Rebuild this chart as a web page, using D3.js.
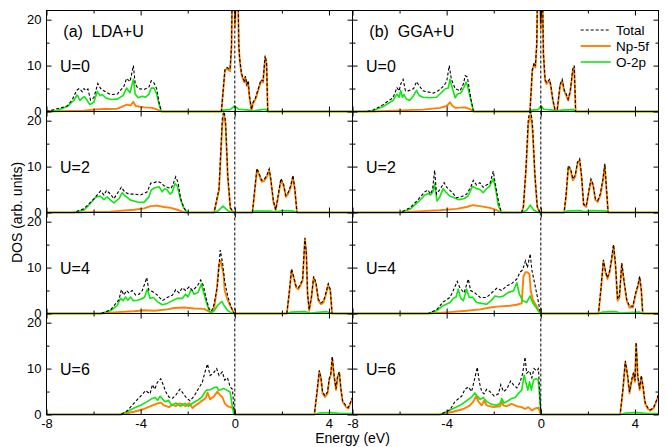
<!DOCTYPE html>
<html><head><meta charset="utf-8">
<script src="https://cdn.jsdelivr.net/npm/d3@7"></script>
<style>
body{margin:0;background:#fff;}
svg{display:block;font-family:"Liberation Sans",Arial,sans-serif;}
</style></head><body>
<svg id="chart" width="667" height="447"></svg>
<script>
// ---------- categories / labels ----------
const methods = ["LDA+U", "GGA+U"];
const panelLetters = ["(a)", "(b)"];
const uLabels = ["U=0", "U=2", "U=4", "U=6"];
const seriesNames = ["Total", "Np-5f", "O-2p"];
const xTickValues = [-8, -4, 0, 4];
const xMinorTicks = [-6, -2, 2];
const yTickValues = [0, 10, 20];
const yMinorTicks = [5, 15];
const xLabel = "Energy (eV)";
const yLabel = "DOS (arb. units)";

// ---------- data: [energy (eV), DOS] ----------
const lda0Total = [[-8,0],[-7.97,0],[-7.12,1.2],[-6.91,2.5],[-6.72,4.6],[-6.61,5.0],[-6.48,4.3],[-6.41,5.0],[-6.33,4.6],[-6.24,4.9],[-6.13,2.5],[-5.99,3.0],[-5.82,6.1],[-5.70,5.0],[-5.56,4.5],[-5.28,3.7],[-4.99,3.8],[-4.71,5.5],[-4.60,7.2],[-4.45,6.5],[-4.31,10.0],[-4.23,6.0],[-4.11,5.0],[-3.86,4.8],[-3.65,5.3],[-3.55,6.7],[-3.43,6.2],[-3.32,5.0],[-3.22,2.0],[-3.12,0],[-0.57,0],[-0.42,9.1],[-0.34,9.6],[-0.2,9.2],[-0.14,14.5],[-0.1,30],[-0.05,32],[0.01,19.5],[0.08,30],[0.13,28],[0.17,14.5],[0.21,11.4],[0.28,8.5],[0.34,7.4],[0.40,6.7],[0.45,7.7],[0.51,5.9],[0.57,6.7],[0.62,3.5],[0.71,0.4],[0.77,1.9],[0.88,3.0],[1.03,5.5],[1.11,6.9],[1.2,6.7],[1.29,12.2],[1.35,10.6],[1.40,0],[5,0]];
const lda0Np5f = [[-8,0],[-7.97,0],[-6.41,0.2],[-5.84,0.5],[-4.99,0.6],[-4.71,1.2],[-4.60,1.5],[-4.43,1.3],[-4.31,2.1],[-4.21,1.2],[-3.86,0.9],[-3.51,0.8],[-3.29,0.4],[-3.12,0],[-0.57,0],[-0.42,8.9],[-0.34,9.3],[-0.2,8.8],[-0.14,14],[-0.1,30],[-0.05,32],[0.01,18.3],[0.08,30],[0.13,28],[0.17,14.0],[0.21,11.1],[0.28,8.2],[0.34,7.1],[0.40,6.4],[0.45,7.4],[0.51,5.6],[0.57,6.4],[0.62,3.2],[0.71,0.3],[0.77,1.7],[0.88,2.7],[1.03,5.2],[1.11,6.6],[1.2,6.3],[1.29,11.8],[1.35,10.3],[1.40,0],[5,0]];
const lda0O2p = [[-8,0],[-7.97,0],[-7.55,0.2],[-7.12,1.1],[-6.84,2.4],[-6.70,3.6],[-6.58,2.4],[-6.47,3.0],[-6.38,3.2],[-6.30,2.6],[-6.16,1.5],[-5.99,2.0],[-5.84,4.4],[-5.73,3.5],[-5.63,3.7],[-5.49,3.0],[-5.28,2.6],[-4.99,2.7],[-4.74,3.5],[-4.60,5.1],[-4.45,4.1],[-4.31,7.0],[-4.23,3.8],[-4.11,3.0],[-3.93,3.3],[-3.79,3.1],[-3.65,3.8],[-3.55,5.1],[-3.43,5.1],[-3.32,3.8],[-3.22,1.6],[-3.12,0],[-0.6,0],[-0.5,0.3],[-0.2,0.4],[0,1.2],[0.15,0.5],[0.6,0.3],[0.75,0.1],[1.0,0.3],[1.3,0.5],[1.42,0],[5,0]];

const gga0Total = [[-8,0],[-7.4,0],[-7.12,0.3],[-6.70,1.5],[-6.28,3.0],[-6.11,5.2],[-6.02,4.5],[-5.95,6.0],[-5.85,7.0],[-5.75,4.5],[-5.63,4.5],[-5.40,5.0],[-5.28,6.5],[-5.17,5.6],[-5.0,4.5],[-4.57,4.0],[-4.36,4.5],[-4.14,5.5],[-4.0,6.5],[-3.89,10.0],[-3.80,7.0],[-3.64,5.0],[-3.43,4.5],[-3.29,6.0],[-3.21,7.8],[-3.12,7.5],[-2.98,3.0],[-2.86,0],[-0.46,0],[-0.36,9.2],[-0.28,10.6],[-0.23,9.9],[-0.17,15],[-0.13,30],[-0.07,30],[0.0,19.3],[0.06,30],[0.11,13],[0.18,7.0],[0.25,6.3],[0.37,7.0],[0.42,5.9],[0.51,2.7],[0.6,0.5],[0.7,0.5],[0.82,5.9],[0.91,7.0],[0.99,4.8],[1.08,3.8],[1.16,2.7],[1.25,4.5],[1.36,9.3],[1.42,10.0],[1.48,0],[5,0]];
const gga0Np5f = [[-8,0],[-7.1,0],[-6.28,0.2],[-5.0,0.4],[-4.29,0.8],[-4.0,1.2],[-3.86,2.0],[-3.77,1.3],[-3.64,0.8],[-3.21,0.9],[-3.0,0.5],[-2.86,0],[-0.46,0],[-0.36,8.9],[-0.28,10.3],[-0.23,9.6],[-0.17,14.7],[-0.13,30],[-0.07,30],[0.0,18],[0.06,30],[0.11,12.5],[0.18,6.7],[0.25,6.0],[0.37,6.7],[0.42,5.6],[0.51,2.4],[0.6,0.3],[0.7,0.3],[0.82,5.6],[0.91,6.7],[0.99,4.5],[1.08,3.5],[1.16,2.4],[1.25,4.2],[1.36,8.9],[1.42,9.6],[1.48,0],[5,0]];
const gga0O2p = [[-8,0],[-7.4,0],[-7.12,0.2],[-6.70,1.1],[-6.28,2.4],[-6.11,3.8],[-6.02,3.1],[-5.95,4.6],[-5.88,3.1],[-5.81,3.7],[-5.71,2.7],[-5.57,2.4],[-5.40,3.5],[-5.28,4.6],[-5.17,3.5],[-5.0,3.1],[-4.71,3.0],[-4.43,3.1],[-4.21,4.2],[-4.07,4.9],[-3.93,5.1],[-3.86,7.0],[-3.77,5.3],[-3.64,3.0],[-3.54,3.8],[-3.40,4.0],[-3.26,5.3],[-3.17,6.4],[-3.09,5.1],[-2.97,2.4],[-2.86,0],[-0.5,0],[-0.4,0.3],[-0.1,0.4],[0,1.3],[0.12,0.5],[0.5,0.3],[0.65,0.1],[0.9,0.3],[1.4,0.4],[1.48,0],[5,0]];

const lda2Total = [[-8,0],[-6.84,0],[-6.41,0.8],[-5.98,3.0],[-5.70,4.7],[-5.56,3.8],[-5.45,4.8],[-5.28,4.0],[-5.14,3.0],[-4.97,4.3],[-4.82,5.5],[-4.68,4.5],[-4.50,4.0],[-4.28,4.0],[-4.0,3.8],[-3.72,4.5],[-3.57,6.4],[-3.43,6.5],[-3.29,6.8],[-3.15,6.5],[-3.01,5.8],[-2.87,5.5],[-2.72,5.2],[-2.65,5.8],[-2.51,7.8],[-2.41,6.5],[-2.30,3.0],[-2.16,1.0],[-2.02,0],[-0.88,0],[-0.67,5.2],[-0.53,20.5],[-0.46,22.5],[-0.39,19.5],[-0.30,8.2],[-0.19,1.0],[-0.05,0],[0.75,0],[0.85,5.2],[0.94,9.6],[1.04,8.4],[1.14,7.0],[1.25,7.2],[1.36,8.1],[1.46,9.5],[1.53,7.3],[1.64,2.5],[1.74,0.6],[1.84,3.7],[1.96,7.4],[2.07,6.2],[2.17,3.7],[2.27,4.4],[2.38,5.9],[2.47,8.1],[2.55,5.2],[2.64,0],[5,0]];
const lda2Np5f = [[-8,0],[-6.84,0],[-5.28,0.2],[-4.28,0.6],[-3.86,0.9],[-3.57,1.4],[-3.29,1.5],[-3.01,1.2],[-2.72,1.0],[-2.44,0.6],[-2.23,0.2],[-2.09,0],[-0.88,0],[-0.67,4.9],[-0.53,19.3],[-0.46,21.5],[-0.39,19],[-0.30,7.8],[-0.19,0.9],[-0.05,0],[0.75,0],[0.85,4.9],[0.94,9.3],[1.04,8.1],[1.14,6.7],[1.25,6.9],[1.36,7.8],[1.46,9.2],[1.53,7.0],[1.64,2.3],[1.74,0.5],[1.84,3.4],[1.96,7.0],[2.07,5.9],[2.17,3.4],[2.27,4.1],[2.38,5.6],[2.47,7.8],[2.55,4.9],[2.64,0],[5,0]];
const lda2O2p = [[-8,0],[-6.84,0],[-6.41,0.5],[-6.13,2.0],[-5.91,3.3],[-5.72,3.6],[-5.56,2.8],[-5.42,3.4],[-5.28,2.7],[-5.14,2.1],[-4.92,3.0],[-4.78,4.3],[-4.68,3.7],[-4.57,3.3],[-4.43,2.7],[-4.14,2.3],[-3.86,2.2],[-3.65,3.4],[-3.55,4.9],[-3.40,5.4],[-3.22,5.6],[-3.08,4.5],[-2.98,5.2],[-2.87,4.9],[-2.75,4.0],[-2.65,4.5],[-2.54,6.3],[-2.44,5.7],[-2.30,2.7],[-2.16,0.9],[-2.02,0],[-0.9,0],[-0.7,0.4],[-0.5,1.4],[-0.3,0.4],[-0.1,0],[0.75,0],[0.85,0.3],[1.5,0.3],[1.7,0.1],[2.0,0.4],[2.5,0.3],[2.64,0],[5,0]];

const gga2Total = [[-8,0],[-5.99,0],[-5.56,1.0],[-5.21,2.8],[-4.93,4.5],[-4.79,4.9],[-4.69,4.0],[-4.60,5.0],[-4.51,9.2],[-4.43,4.0],[-4.29,5.0],[-4.11,6.5],[-4.0,5.5],[-3.79,4.5],[-3.58,3.2],[-3.36,3.5],[-3.15,4.0],[-2.98,5.5],[-2.87,7.0],[-2.73,6.0],[-2.59,6.5],[-2.45,5.5],[-2.31,6.0],[-2.16,6.3],[-2.02,9.0],[-1.91,5.5],[-1.76,1.5],[-1.67,0],[-0.81,0],[-0.74,1.3],[-0.63,9.7],[-0.53,20.5],[-0.43,22.5],[-0.35,19],[-0.25,8.2],[-0.15,1.3],[-0.04,0],[0.99,0],[1.07,3.7],[1.17,10.2],[1.27,9.5],[1.36,7.3],[1.46,8.1],[1.56,11.0],[1.65,11.7],[1.73,8.1],[1.82,1.8],[1.93,1.4],[2.03,4.4],[2.13,7.3],[2.22,6.2],[2.32,3.0],[2.42,2.6],[2.53,4.1],[2.64,7.3],[2.72,10.6],[2.79,5.2],[2.86,0],[5,0]];
const gga2Np5f = [[-8,0],[-5.99,0],[-5.0,0.3],[-4.29,0.5],[-3.58,0.8],[-3.15,1.2],[-2.90,1.6],[-2.59,1.4],[-2.16,1.0],[-1.87,0.5],[-1.70,0],[-0.81,0],[-0.74,1.2],[-0.63,9.2],[-0.53,19.3],[-0.43,21.5],[-0.35,17.9],[-0.25,7.8],[-0.15,1.2],[-0.04,0],[0.99,0],[1.07,3.4],[1.17,9.9],[1.27,9.2],[1.36,7.0],[1.46,7.8],[1.56,10.7],[1.65,11.4],[1.73,7.8],[1.82,1.6],[1.93,1.2],[2.03,4.1],[2.13,7.0],[2.22,5.9],[2.32,2.7],[2.42,2.3],[2.53,3.8],[2.64,7.0],[2.72,10.3],[2.79,4.9],[2.86,0],[5,0]];
const gga2O2p = [[-8,0],[-5.99,0],[-5.56,0.7],[-5.28,2.0],[-5.07,3.0],[-4.93,3.8],[-4.79,4.1],[-4.69,3.8],[-4.58,4.5],[-4.51,6.3],[-4.41,2.5],[-4.29,3.4],[-4.15,5.2],[-4.04,4.5],[-3.87,3.6],[-3.72,3.3],[-3.51,2.8],[-3.27,3.0],[-3.09,3.6],[-2.90,5.7],[-2.73,5.2],[-2.59,5.0],[-2.45,4.3],[-2.31,5.2],[-2.19,5.6],[-2.02,7.4],[-1.91,4.9],[-1.81,1.6],[-1.67,0],[-0.81,0],[-0.6,0.5],[-0.45,1.6],[-0.3,0.5],[-0.1,0],[0.99,0],[1.1,0.3],[1.7,0.4],[1.85,0.1],[2.1,0.4],[2.8,0.3],[2.86,0],[5,0]];

const lda4Total = [[-8,0],[-5.70,0],[-5.28,0.8],[-4.92,3.0],[-4.82,5.2],[-4.71,4.0],[-4.60,5.0],[-4.50,4.5],[-4.36,5.0],[-4.21,4.0],[-4.07,4.2],[-3.93,5.0],[-3.74,7.8],[-3.65,5.0],[-3.50,4.8],[-3.29,4.0],[-3.08,2.8],[-2.87,3.5],[-2.65,4.0],[-2.51,5.2],[-2.37,4.5],[-2.23,5.6],[-2.09,5.0],[-1.94,5.8],[-1.80,5.0],[-1.59,6.0],[-1.45,7.3],[-1.33,6.0],[-1.23,3.5],[-1.09,1.0],[-0.99,0.5],[-0.88,2.0],[-0.74,6.0],[-0.62,13.8],[-0.52,11.0],[-0.43,7.0],[-0.31,4.0],[-0.17,1.5],[-0.03,0],[2.21,0],[2.31,4.5],[2.41,9.7],[2.50,8.1],[2.60,6.0],[2.70,5.6],[2.78,6.3],[2.88,7.4],[2.98,16.5],[3.04,13.2],[3.09,4.5],[3.16,0.8],[3.26,3.8],[3.35,8.1],[3.45,6.7],[3.55,3.1],[3.66,2.3],[3.77,2.7],[3.87,4.5],[3.97,6.5],[4.06,5.2],[4.13,0],[5,0]];
const lda4Np5f = [[-8,0],[-5.70,0],[-5.0,0.3],[-4.28,0.5],[-3.86,0.7],[-3.43,0.6],[-2.87,0.9],[-2.58,1.2],[-2.16,1.3],[-1.73,1.1],[-1.30,1.0],[-1.09,0.4],[-0.99,0.1],[-0.88,1.2],[-0.77,5.0],[-0.67,10.8],[-0.60,11.5],[-0.48,8.5],[-0.43,5.0],[-0.31,3.0],[-0.17,1.5],[-0.03,0],[2.21,0],[2.31,4.2],[2.41,9.4],[2.50,7.8],[2.60,5.7],[2.70,5.3],[2.78,6.0],[2.88,7.1],[2.98,16.2],[3.04,12.9],[3.09,4.2],[3.16,0.6],[3.26,3.5],[3.35,7.8],[3.45,6.4],[3.55,2.8],[3.66,2.0],[3.77,2.4],[3.87,4.2],[3.97,6.2],[4.06,4.9],[4.13,0],[5,0]];
const lda4O2p = [[-8,0],[-5.70,0],[-5.28,0.6],[-5.0,1.7],[-4.85,3.3],[-4.74,2.8],[-4.64,3.6],[-4.54,2.9],[-4.43,3.6],[-4.31,2.8],[-4.14,2.9],[-4.0,3.1],[-3.83,3.6],[-3.72,5.3],[-3.60,3.3],[-3.46,3.5],[-3.29,2.6],[-3.08,1.9],[-2.87,2.2],[-2.65,2.8],[-2.44,3.3],[-2.23,3.3],[-2.09,4.2],[-1.99,3.6],[-1.85,5.3],[-1.73,4.2],[-1.56,4.6],[-1.42,6.4],[-1.34,4.9],[-1.23,2.8],[-1.09,0.6],[-1.0,0.2],[-0.88,0.6],[-0.74,1.7],[-0.6,2.4],[-0.55,2.6],[-0.45,1.7],[-0.31,0.7],[-0.17,0.2],[-0.03,0],[2.2,0],[2.4,0.3],[3.0,0.4],[3.2,0.1],[3.9,0.4],[4.13,0],[5,0]];

const gga4Total = [[-8,0],[-4.78,0],[-4.43,0.8],[-4.15,2.5],[-3.86,3.5],[-3.72,5.0],[-3.55,7.0],[-3.43,5.5],[-3.26,4.5],[-3.08,7.5],[-2.98,5.0],[-2.80,4.5],[-2.58,3.5],[-2.30,3.5],[-2.09,4.5],[-1.87,5.5],[-1.66,5.0],[-1.45,6.0],[-1.24,6.5],[-1.02,7.5],[-0.88,9.0],[-0.77,9.5],[-0.65,11.5],[-0.57,10.0],[-0.45,13.0],[-0.38,9.5],[-0.24,6.0],[-0.14,3.5],[-0.03,0.5],[0,0],[2.45,0],[2.55,5.2],[2.66,11.7],[2.75,9.2],[2.83,7.8],[2.92,9.2],[3.0,11.7],[3.09,15.0],[3.17,11.0],[3.26,3.1],[3.34,3.8],[3.44,11.0],[3.54,7.0],[3.65,3.1],[3.77,1.6],[3.91,1.6],[4.03,4.5],[4.13,6.3],[4.20,8.1],[4.27,5.2],[4.33,0],[5,0]];
const gga4Np5f = [[-8,0],[-4.78,0],[-3.86,0.3],[-3.15,0.6],[-2.58,0.9],[-2.16,1.3],[-1.87,1.5],[-1.59,1.6],[-1.31,1.7],[-1.03,1.9],[-0.81,2.2],[-0.74,8.0],[-0.65,9.0],[-0.57,9.0],[-0.48,8.5],[-0.43,5.0],[-0.34,3.0],[-0.17,1.5],[-0.03,0.2],[0,0],[2.45,0],[2.55,4.9],[2.66,11.4],[2.75,8.9],[2.83,7.5],[2.92,8.9],[3.0,11.4],[3.09,14.7],[3.17,10.7],[3.26,2.8],[3.34,3.5],[3.44,10.7],[3.54,6.7],[3.65,2.8],[3.77,1.3],[3.91,1.3],[4.03,4.2],[4.13,6.0],[4.20,7.8],[4.27,4.9],[4.33,0],[5,0]];
const gga4O2p = [[-8,0],[-4.78,0],[-4.43,0.6],[-4.15,1.7],[-3.86,2.4],[-3.72,3.3],[-3.60,3.6],[-3.51,5.3],[-3.40,3.3],[-3.29,2.8],[-3.15,5.3],[-3.04,3.5],[-2.90,3.6],[-2.73,2.4],[-2.52,2.2],[-2.31,2.0],[-2.09,2.9],[-1.95,3.8],[-1.76,3.6],[-1.59,3.8],[-1.38,4.6],[-1.16,4.9],[-1.02,6.7],[-0.91,4.2],[-0.77,2.8],[-0.60,2.4],[-0.46,3.8],[-0.35,2.4],[-0.20,1.3],[-0.06,0.2],[0,0],[2.45,0],[2.6,0.3],[3.2,0.4],[3.35,0.1],[4.2,0.3],[4.33,0],[5,0]];

const lda6Total = [[-8,0],[-4.85,0],[-4.57,0.8],[-4.28,2.5],[-4.0,4.0],[-3.79,5.2],[-3.60,4.5],[-3.50,6.5],[-3.40,5.5],[-3.29,7.0],[-3.15,7.8],[-3.04,6.5],[-2.94,5.0],[-2.80,3.8],[-2.65,3.5],[-2.51,4.2],[-2.33,5.5],[-2.18,4.5],[-2.04,3.5],[-1.90,3.0],[-1.73,4.0],[-1.56,5.5],[-1.38,7.0],[-1.28,9.0],[-1.16,11.0],[-1.05,8.5],[-0.91,9.0],[-0.77,10.0],[-0.67,8.5],[-0.53,9.3],[-0.43,7.5],[-0.31,8.0],[-0.20,6.0],[-0.10,5.5],[-0.03,1.0],[0.01,0],[3.38,0],[3.49,4.9],[3.59,9.6],[3.66,8.1],[3.73,4.9],[3.83,4.1],[3.94,4.9],[4.01,7.8],[4.08,8.9],[4.14,12.6],[4.22,8.5],[4.30,5.6],[4.37,8.5],[4.44,9.3],[4.51,5.5],[4.58,3.0],[4.72,1.9],[4.82,1.5],[4.94,3.0],[5.0,3.7]];
const lda6Np5f = [[-8,0],[-4.85,0],[-4.28,0.6],[-3.86,1.2],[-3.57,1.8],[-3.29,2.4],[-3.15,2.6],[-3.01,2.0],[-2.80,1.6],[-2.65,2.2],[-2.51,1.8],[-2.37,2.4],[-2.23,2.3],[-2.09,1.8],[-1.94,2.5],[-1.80,1.4],[-1.66,2.0],[-1.45,2.8],[-1.23,3.6],[-1.16,4.8],[-1.05,3.3],[-0.88,4.0],[-0.74,5.0],[-0.62,4.2],[-0.53,3.8],[-0.43,2.5],[-0.31,1.8],[-0.17,1.6],[-0.06,1.3],[-0.01,0],[3.38,0],[3.49,4.6],[3.59,9.3],[3.66,7.8],[3.73,4.6],[3.83,3.8],[3.94,4.6],[4.01,7.5],[4.08,8.6],[4.14,12.3],[4.22,8.2],[4.30,5.3],[4.37,8.2],[4.44,9.1],[4.51,5.3],[4.58,2.8],[4.72,1.7],[4.82,1.3],[4.94,2.8],[5.0,3.5]];
const lda6O2p = [[-8,0],[-4.85,0],[-4.57,0.6],[-4.28,1.4],[-4.0,2.0],[-3.72,2.8],[-3.51,3.5],[-3.38,3.7],[-3.28,3.1],[-3.17,4.0],[-3.06,3.3],[-2.96,2.8],[-2.82,3.1],[-2.68,2.0],[-2.49,2.5],[-2.32,1.8],[-2.11,2.4],[-1.97,1.8],[-1.78,2.5],[-1.58,3.1],[-1.40,3.8],[-1.21,5.3],[-1.04,5.4],[-0.87,5.9],[-0.76,6.0],[-0.69,5.3],[-0.59,5.4],[-0.48,5.7],[-0.34,5.3],[-0.20,4.9],[-0.09,1.3],[-0.04,0],[3.38,0],[3.6,0.3],[4.1,0.4],[4.5,0.2],[5,0.2]];

const gga6Total = [[-8,0],[-4.29,0],[-3.86,1.0],[-3.65,2.8],[-3.36,4.0],[-3.22,5.5],[-3.08,6.0],[-2.94,5.0],[-2.80,8.0],[-2.70,10.3],[-2.61,7.0],[-2.51,5.0],[-2.41,4.5],[-2.30,5.5],[-2.16,5.0],[-1.98,4.0],[-1.80,4.5],[-1.70,6.5],[-1.59,5.0],[-1.45,5.5],[-1.28,7.3],[-1.17,6.5],[-1.02,5.8],[-0.88,7.0],[-0.77,9.0],[-0.67,12.5],[-0.60,9.0],[-0.48,9.5],[-0.38,8.0],[-0.29,10.0],[-0.17,9.5],[-0.10,10.0],[-0.03,3.0],[0.01,0],[3.37,0],[3.49,5.6],[3.59,11.7],[3.69,8.5],[3.77,4.9],[3.87,7.8],[3.94,9.2],[4.0,7.4],[4.05,15.7],[4.12,8.5],[4.20,5.6],[4.27,8.5],[4.34,6.3],[4.43,2.7],[4.54,1.5],[4.65,1.0],[4.79,1.5],[4.93,3.3],[5.0,4.4]];
const gga6Np5f = [[-8,0],[-4.29,0],[-3.72,0.6],[-3.29,1.2],[-3.01,2.0],[-2.87,2.8],[-2.75,4.0],[-2.65,2.8],[-2.51,2.0],[-2.41,3.0],[-2.30,2.0],[-2.02,1.6],[-1.73,1.8],[-1.66,2.8],[-1.59,2.0],[-1.45,1.8],[-1.24,2.3],[-1.02,1.8],[-0.81,1.6],[-0.67,1.2],[-0.53,1.6],[-0.38,0.9],[-0.24,1.3],[-0.10,1.5],[0,0],[3.37,0],[3.49,5.3],[3.59,11.4],[3.69,8.2],[3.77,4.6],[3.87,7.5],[3.94,8.9],[4.0,7.1],[4.05,15.4],[4.12,8.2],[4.20,5.3],[4.27,8.2],[4.34,6.0],[4.43,2.4],[4.54,1.3],[4.65,0.8],[4.79,1.3],[4.93,3.1],[5.0,4.2]];
const gga6O2p = [[-8,0],[-4.29,0],[-4.0,0.6],[-3.72,1.3],[-3.43,2.0],[-3.15,3.0],[-2.94,3.8],[-2.80,4.7],[-2.70,4.0],[-2.58,3.3],[-2.44,3.7],[-2.30,2.8],[-2.09,2.2],[-1.87,2.0],[-1.73,2.4],[-1.66,3.5],[-1.56,2.5],[-1.38,3.0],[-1.24,3.5],[-1.09,3.7],[-0.95,4.6],[-0.81,5.3],[-0.71,8.6],[-0.62,6.7],[-0.55,5.3],[-0.48,7.1],[-0.40,5.3],[-0.31,7.5],[-0.20,7.8],[-0.11,7.5],[-0.06,4.6],[0,0],[3.37,0],[3.6,0.3],[4.1,0.4],[4.5,0.2],[5,0.2]];

// rows = U values, columns = methods; each cell [Total, Np-5f, O-2p]
const panelData = [
  [[lda0Total, lda0Np5f, lda0O2p], [gga0Total, gga0Np5f, gga0O2p]],
  [[lda2Total, lda2Np5f, lda2O2p], [gga2Total, gga2Np5f, gga2O2p]],
  [[lda4Total, lda4Np5f, lda4O2p], [gga4Total, gga4Np5f, gga4O2p]],
  [[lda6Total, lda6Np5f, lda6O2p], [gga6Total, gga6Np5f, gga6O2p]]
];

// ---------- layout & style ----------
const W = 306, H = 101, L = 46.5, T = 10.5;
const colors = { total: "#000000", np5f: "#ff8000", o2p: "#11e611" };
const svg = d3.select("#chart");
const x = d3.scaleLinear().domain([-8, 5]).range([0, W]);
const y = d3.scaleLinear().domain([0, 22]).range([H, 0]);
const line = d3.line().x(d => x(d[0])).y(d => y(d[1]));

function styleAxis(g) {
  g.select(".domain").remove();
  g.selectAll(".tick line").attr("stroke", "#000").attr("stroke-width", 1);
  g.selectAll("text").attr("font-family", "'Liberation Sans',Arial,sans-serif").attr("font-size", 13).attr("fill", "#000");
  g.attr("font-family", null).attr("font-size", null);
}

uLabels.forEach((uLab, r) => {
  methods.forEach((m, c) => {
    const px = L + c * W, py = T + r * H;
    const g = svg.append("g").attr("transform", `translate(${px},${py})`);
    const clipId = `clip-${r}-${c}`;
    g.append("clipPath").attr("id", clipId).append("rect")
      .attr("x", -1).attr("y", 0).attr("width", W + 2).attr("height", H + 2);

    const [tot, np, op] = panelData[r][c];
    const plot = g.append("g").attr("clip-path", `url(#${clipId})`);
    plot.append("path").datum(np).attr("d", line).attr("fill", "none")
      .attr("stroke", colors.np5f).attr("stroke-width", 1.9).attr("stroke-linejoin", "round");
    plot.append("path").datum(op).attr("d", line).attr("fill", "none")
      .attr("stroke", colors.o2p).attr("stroke-width", 1.6).attr("stroke-linejoin", "round");
    plot.append("path").datum(tot).attr("d", line).attr("fill", "none")
      .attr("stroke", colors.total).attr("stroke-width", 1.1).attr("stroke-dasharray", "3,2");
    // Fermi level
    plot.append("line").attr("x1", x(0)).attr("x2", x(0)).attr("y1", 0).attr("y2", H)
      .attr("stroke", "#000").attr("stroke-width", 1).attr("stroke-dasharray", "3,2");

    // ticks (inward on all sides)
    const bottom = g.append("g").attr("transform", `translate(0,${H})`)
      .call(d3.axisBottom(x).tickValues(xTickValues).tickSizeInner(-5).tickSizeOuter(0).tickPadding(4.5)
        .tickFormat(r === uLabels.length - 1 ? (d => String(d)) : ""));
    styleAxis(bottom);
    const bottomMinor = g.append("g").attr("transform", `translate(0,${H})`)
      .call(d3.axisBottom(x).tickValues(xMinorTicks).tickSizeInner(-3).tickSizeOuter(0).tickFormat(""));
    styleAxis(bottomMinor);
    const top = g.append("g")
      .call(d3.axisTop(x).tickValues(xTickValues).tickSizeInner(-5).tickSizeOuter(0).tickFormat(""));
    styleAxis(top);
    const topMinor = g.append("g")
      .call(d3.axisTop(x).tickValues(xMinorTicks).tickSizeInner(-3).tickSizeOuter(0).tickFormat(""));
    styleAxis(topMinor);
    const left = g.append("g")
      .call(d3.axisLeft(y).tickValues(yTickValues).tickSizeInner(-5).tickSizeOuter(0).tickPadding(5)
        .tickFormat(c === 0 ? (d => String(d)) : ""));
    styleAxis(left);
    const leftMinor = g.append("g")
      .call(d3.axisLeft(y).tickValues(yMinorTicks).tickSizeInner(-3).tickSizeOuter(0).tickFormat(""));
    styleAxis(leftMinor);
    const right = g.append("g").attr("transform", `translate(${W},0)`)
      .call(d3.axisRight(y).tickValues(yTickValues).tickSizeInner(-5).tickSizeOuter(0).tickFormat(""));
    styleAxis(right);
    const rightMinor = g.append("g").attr("transform", `translate(${W},0)`)
      .call(d3.axisRight(y).tickValues(yMinorTicks).tickSizeInner(-3).tickSizeOuter(0).tickFormat(""));
    styleAxis(rightMinor);

    // frame
    g.append("rect").attr("x", 0).attr("y", 0).attr("width", W).attr("height", H)
      .attr("fill", "none").attr("stroke", "#000").attr("stroke-width", 1);

    // U label
    g.append("text").attr("x", 13.5).attr("y", 61.5).attr("font-size", 16).text(uLab);
    // method label
    if (r === 0) {
      g.append("text").attr("x", 16.8).attr("y", 26.8).attr("font-size", 16)
        .text(panelLetters[c] + "\u00A0\u00A0" + m);
    }
  });
});

// legend (top-right panel)
const legend = svg.append("g").attr("transform", `translate(${L + W},${T})`);
const legItems = [
  { name: seriesNames[0], color: colors.total, dash: "3,2", w: 1.1 },
  { name: seriesNames[1], color: colors.np5f, dash: null, w: 1.9 },
  { name: seriesNames[2], color: colors.o2p, dash: null, w: 1.6 }
];
legItems.forEach((it, i) => {
  const ly = 19.5 + i * 16;
  legend.append("line").attr("x1", 228.2).attr("x2", 258.2).attr("y1", ly).attr("y2", ly)
    .attr("stroke", it.color).attr("stroke-width", it.w).attr("stroke-dasharray", it.dash);
  legend.append("text").attr("x", 263.5).attr("y", ly + 4.6).attr("font-size", 13.5).text(it.name);
});

// axis titles
svg.append("text").attr("x", L + W).attr("y", 443).attr("text-anchor", "middle")
  .attr("font-size", 14).text(xLabel);
svg.append("text").attr("transform", `translate(22,${T + 2 * H}) rotate(-90)`)
  .attr("text-anchor", "middle").attr("font-size", 14).text(yLabel);
</script>
</body></html>
